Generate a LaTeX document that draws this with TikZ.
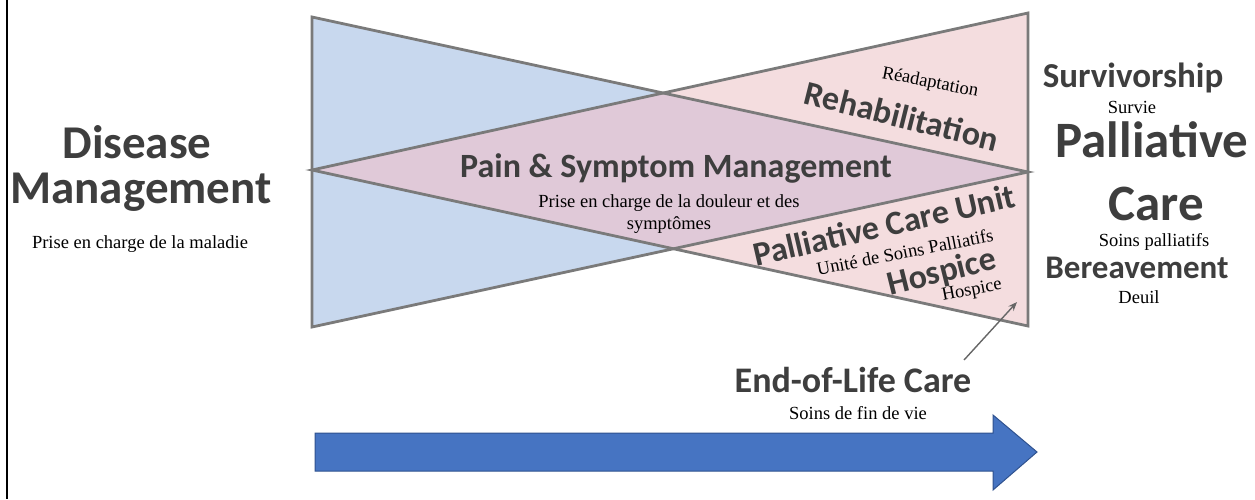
\documentclass[tikz,border=0pt]{standalone}
\usepackage{fontspec}
\setmainfont{Liberation Serif}
\newfontfamily\carlito{Carlito}
\usepackage{tikz}
\usetikzlibrary{arrows.meta, calc}
\definecolor{bluefill}{RGB}{200,216,238}
\definecolor{pinkfill}{RGB}{244,221,223}
\definecolor{mauvefill}{RGB}{224,201,216}
\definecolor{edgegray}{RGB}{122,122,122}
\definecolor{labgray}{RGB}{62,62,62}
\definecolor{arrowblue}{RGB}{70,116,194}
\definecolor{arrowedge}{RGB}{47,82,143}

\begin{document}
\begin{tikzpicture}[x=1pt, y=-1pt, every node/.style={inner sep=0pt, align=center}]
    % Styles for the triangles and the labels
    \tikzset{
        edge/.style={draw=edgegray, line width=2.8pt, line join=miter},
        sanslab/.style={font=\carlito\bfseries\fontsize{34}{38}\selectfont, text=labgray},
        sansbig/.style={font=\carlito\bfseries\fontsize{47}{52}\selectfont, text=labgray},
        sanshuge/.style={font=\carlito\bfseries\fontsize{51}{56}\selectfont, text=labgray},
        frlab/.style={font=\fontsize{18.5}{21}\selectfont, text=black},
        timeline/.style={fill=arrowblue, draw=arrowedge, line width=1pt, line join=miter}
    }
    \useasboundingbox (0,0) rectangle (1255,499);
    \draw[line width=1.6pt] (7,0) -- (7,499);

    % --- TRIANGLES ---
    \coordinate (BT) at (312,17);
    \coordinate (BB) at (312,327);
    \coordinate (BA) at (1028,172);
    \coordinate (PT) at (1028,13);
    \coordinate (PB) at (1028,326);
    \coordinate (PA) at (312,170);

    \fill[bluefill] (BT) -- (BB) -- (BA) -- cycle;
    \fill[pinkfill] (PT) -- (PB) -- (PA) -- cycle;
    \begin{scope}
        \clip (BT) -- (BB) -- (BA) -- cycle;
        \fill[mauvefill] (PT) -- (PB) -- (PA) -- cycle;
    \end{scope}
    \draw[edge] (BT) -- (BB) -- (BA) -- cycle;
    \draw[edge] (PT) -- (PB) -- (PA) -- cycle;

    % --- LEFT: DISEASE MANAGEMENT ---
    \node (DIS) [sansbig, anchor=base] at (137,158) {Disease};
    \node (MAN) [sansbig, anchor=base] at (141,203) {Management};
    \node (MAL) [frlab, anchor=base] at (140,248) {Prise en charge de la maladie};

    % --- MIDDLE ---
    \node (PSM) [sanslab, anchor=base] at (676,177) {Pain \& Symptom Management};
    \node (DOU) [frlab, anchor=base] at (669,207) {Prise en charge de la douleur et des};
    \node (SYM) [frlab, anchor=base] at (669,229) {symptômes};

    \node (REA) [frlab, rotate=-11] at (930,83) {Réadaptation};
    \node (REH) [sanslab, rotate=-14] at (902,116) {Rehabilitation};

    \node (PCU) [sanslab, rotate=13] at (884,225) {Palliative Care Unit};
    \node (USP) [frlab, rotate=11] at (905,252) {Unité de Soins Palliatifs};
    \node (HOS) [sanslab, rotate=14] at (942,273) {Hospice};
    \node (HOF) [frlab, rotate=11] at (972,291) {Hospice};

    % --- RIGHT COLUMN ---
    \node (SUR) [sanslab, font=\carlito\bfseries\fontsize{35}{38}\selectfont, anchor=base] at (1133,87) {Survivorship};
    \node (SUF) [frlab, anchor=base] at (1132,113) {Survie};
    \node (PAL) [sanshuge, anchor=base] at (1152,157) {Palliative};
    \node (CAR) [sanshuge, anchor=base] at (1156,220) {Care};
    \node (SPA) [frlab, anchor=base] at (1154,246) {Soins palliatifs};
    \node (BER) [sanslab, font=\carlito\bfseries\fontsize{33}{36}\selectfont, anchor=base] at (1137,278) {Bereavement};
    \node (DEU) [frlab, anchor=base] at (1139,303) {Deuil};

    % --- END OF LIFE ---
    \node (EOL) [sanslab, font=\carlito\bfseries\fontsize{36}{38}\selectfont, anchor=base] at (853,392) {End-of-Life Care};
    \node (SFV) [frlab, anchor=base] at (858,419) {Soins de fin de vie};
    \coordinate (EOLtop) at (964,360);
    \coordinate (HOStip) at (1017,302);
    \draw[draw=black!60, line width=1.4pt, -{Stealth[length=9pt, width=7pt]}] (EOLtop) -- (HOStip);

    % --- TIME ARROW ---
    \draw[timeline] (315,433) -- (993,433) -- (993,415) -- (1037,452) -- (993,490) -- (993,471) -- (315,471) -- cycle;

\end{tikzpicture}
\end{document}
